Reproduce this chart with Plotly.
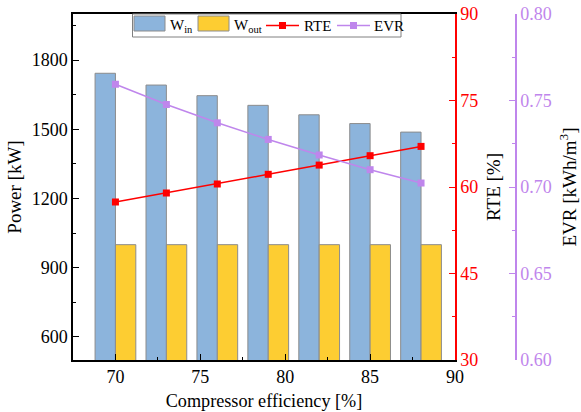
import plotly.graph_objects as go

eff = [70, 73, 76, 79, 82, 85, 88]
w_in = [1743, 1692, 1646, 1604, 1563, 1525, 1488]
w_out = [1000, 1000, 1000, 1000, 1000, 1000, 1000]
rte = [57.4, 58.96, 60.52, 62.2, 63.8, 65.43, 67.04]
evr = [0.7594, 0.7477, 0.7371, 0.7275, 0.7185, 0.7100, 0.7023]
legend_labels = ["W<sub>in</sub>", "W<sub>out</sub>", "RTE", "EVR"]

BLUE = "#8CB4DC"
YELLOW = "#FDCD32"
RED = "#FF0000"
PURPLE = "#BF86EC"
EDGE = "#8C8C8C"
FONT = "Liberation Serif"

fig = go.Figure()
fig.add_trace(go.Bar(x=eff, y=w_in, name=legend_labels[0], marker=dict(color=BLUE, line=dict(color=EDGE, width=1)), yaxis="y"))
fig.add_trace(go.Bar(x=eff, y=w_out, name=legend_labels[1], marker=dict(color=YELLOW, line=dict(color=EDGE, width=1)), yaxis="y"))
fig.add_trace(go.Scatter(x=eff, y=rte, name=legend_labels[2], mode="lines+markers", line=dict(color=RED, width=1.5), marker=dict(symbol="square", size=7, color=RED), yaxis="y2"))
fig.add_trace(go.Scatter(x=eff, y=evr, name=legend_labels[3], mode="lines+markers", line=dict(color=PURPLE, width=1.5), marker=dict(symbol="square", size=7, color=PURPLE), yaxis="y3"))

L, R, T, B = 73, 10, 14, 52
W, H = 581, 412
pw = W - L - R
ph = H - T - B
xend = (455 - L) / pw
p3 = (516 - L) / pw

def px(x):
    return (x - L) / pw

def py(y):
    return (H - B - y) / ph

shapes = []
annotations = []
# custom legend frame
shapes.append(dict(type="rect", xref="paper", yref="paper", x0=px(132.5), x1=px(401), y0=py(37), y1=py(14),
                   line=dict(color="#808080", width=1), fillcolor="white", layer="above"))
cy = 25.5
for (x0, x1, col) in [(134, 165, BLUE), (198, 229, YELLOW)]:
    shapes.append(dict(type="rect", xref="paper", yref="paper", x0=px(x0), x1=px(x1), y0=py(31), y1=py(16),
                       line=dict(color=EDGE, width=1), fillcolor=col, layer="above"))
for (x0, x1, col) in [(266, 299, RED), (337, 370, PURPLE)]:
    shapes.append(dict(type="line", xref="paper", yref="paper", x0=px(x0), x1=px(x1), y0=py(cy), y1=py(cy),
                       line=dict(color=col, width=1.5), layer="above"))
    xm = (x0 + x1) / 2
    shapes.append(dict(type="rect", xref="paper", yref="paper", x0=px(xm - 3.5), x1=px(xm + 3.5), y0=py(cy + 3.5), y1=py(cy - 3.5),
                       line=dict(color=col, width=0), fillcolor=col, layer="above"))
for (xt, txt) in zip([168, 232, 302, 372], legend_labels):
    annotations.append(dict(xref="paper", yref="paper", x=px(xt), y=py(cy), text=txt, showarrow=False,
                            xanchor="left", yanchor="middle", font=dict(size=15, family=FONT, color="black")))

fig.update_layout(
    width=W, height=H,
    margin=dict(l=L, r=R, t=T, b=B, autoexpand=False),
    plot_bgcolor="white", paper_bgcolor="white",
    font=dict(family=FONT, size=18, color="black"),
    barmode="group", bargap=0.2, bargroupgap=0,
    showlegend=False,
    shapes=shapes, annotations=annotations,
    xaxis=dict(domain=[0, xend], range=[67.5, 90], tickmode="linear", tick0=70, dtick=5,
               showgrid=False, zeroline=False, showline=True, linecolor="black", linewidth=1.5,
               mirror=True, ticks="inside", ticklen=6, tickcolor="black",
               minor=dict(ticks="inside", ticklen=3, dtick=2.5, tickcolor="black"),
               title=dict(text="Compressor efficiency [%]", font=dict(size=18.2), standoff=8),
               tickfont=dict(size=18)),
    yaxis=dict(range=[500, 2000], tickmode="linear", tick0=600, dtick=300,
               showgrid=False, zeroline=False, showline=True, linecolor="black", linewidth=1.5,
               ticks="inside", ticklen=6, tickcolor="black",
               minor=dict(ticks="inside", ticklen=3, dtick=150, tickcolor="black"),
               title=dict(text="Power [kW]", font=dict(size=19), standoff=5),
               tickfont=dict(size=18)),
    yaxis2=dict(range=[30, 90], tickmode="linear", tick0=30, dtick=15, overlaying="y", side="right",
                anchor="x", showgrid=False, zeroline=False, showline=True, linecolor=RED, linewidth=1.5,
                ticks="inside", ticklen=6, tickcolor=RED,
                minor=dict(ticks="inside", ticklen=3, dtick=7.5, tickcolor=RED),
                tickfont=dict(color=RED, size=18),
                title=dict(text="RTE [%]", font=dict(size=19, color="black"), standoff=9)),
    yaxis3=dict(range=[0.6, 0.8], tickmode="linear", tick0=0.6, dtick=0.05, overlaying="y", side="right",
                anchor="free", position=p3, showgrid=False, zeroline=False, showline=True,
                linecolor=PURPLE, linewidth=1.5, ticks="inside", ticklen=6, tickcolor=PURPLE,
                minor=dict(ticks="inside", ticklen=3, dtick=0.025, tickcolor=PURPLE),
                tickformat=".2f", tickfont=dict(color=PURPLE, size=18),
                title=dict(text="EVR [kWh/m<sup>3</sup>]", font=dict(size=19, color="black"), standoff=11)),
)

fig.write_html("out.html", config={"displayModeBar": False},
               post_script="document.body.style.margin='0';document.body.style.overflow='hidden';")
